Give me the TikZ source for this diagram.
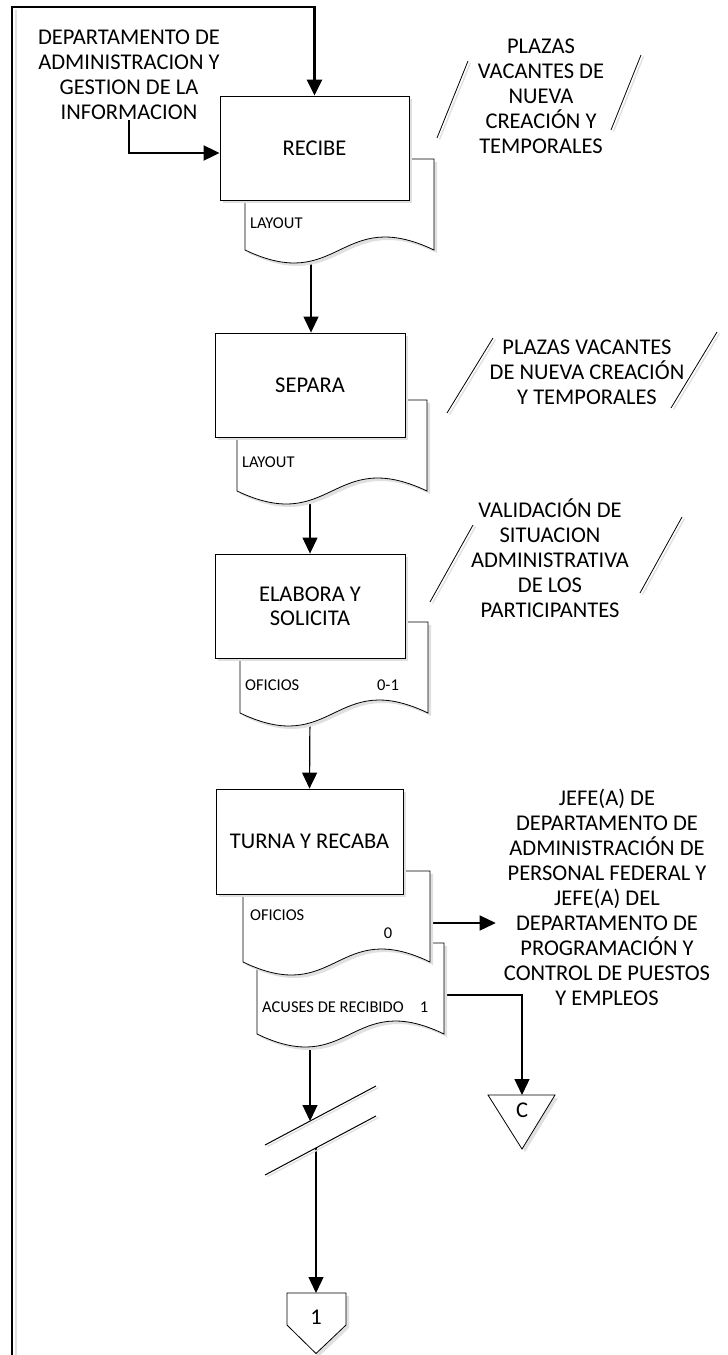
\documentclass[tikz,border=0pt]{standalone}
\usepackage{fontspec}
\setmainfont{Carlito}
\usetikzlibrary{arrows.meta,shadows}
\newcommand\bigtxt{\fontsize{22.5}{25}\selectfont}
\newcommand\smalltxt{\fontsize{16.5}{19}\selectfont}
\pgfdeclarelayer{bg}
\pgfsetlayers{bg,main}
\tikzset{
  shad/.style={general shadow={shadow xshift=3pt, shadow yshift=-3pt, fill=black!12}},
  proc/.style={draw, line width=0.85pt, fill=white, inner sep=0pt, align=center, font=\bigtxt, shad},
  docbox/.style={draw, line width=0.8pt, fill=white, shad},
  arr/.style={-{Triangle[length=16pt,width=15pt]}, line width=1.2pt},
  heavy/.style={line width=2.6pt},
  lbl/.style={inner sep=0pt, align=center, font=\bigtxt},
  sm/.style={inner sep=0pt, font=\smalltxt},
  slash/.style={line width=0.8pt, preaction={draw=black!12, line width=1.4pt, transform canvas={shift={(2.5pt,-1.5pt)}}}},
}
\newcommand\docshape[4]{%
  \draw[docbox] (#1,#2) -- (#3,#2) -- (#3,#4)
    .. controls ({(#1+#3)/2},{#4-45}) and ({(#1+#3)/2},{#4+45}) .. (#1,#4) -- cycle;}
\begin{document}
\begin{tikzpicture}[x=1pt,y=-1pt]
\useasboundingbox (0,0) rectangle (728,1355);

% ---------- documents (behind boxes) ----------
\docshape{245}{159}{434}{250}
\node[sm, anchor=west] (t1) at (250,223) {LAYOUT};
\docshape{237}{400}{427}{491}
\node[sm, anchor=west] (t2) at (242,462) {LAYOUT};
\docshape{240}{622}{428}{713}
\node[sm, anchor=west] (t3) at (245,685) {OFICIOS};
\node[sm] (t3b) at (388,685) {0-1};
\docshape{257}{943}{444}{1034}
\node[sm, anchor=west] (t5) at (262,1007) {ACUSES DE RECIBIDO};
\node[sm] (t5b) at (424,1007) {1};
\docshape{243}{871}{430}{962}
\node[sm, anchor=west] (t4) at (250,915) {OFICIOS};
\node[sm] (t4b) at (388,933) {0};

% ---------- process boxes ----------
\node[proc, minimum width=189pt, minimum height=104pt] (recibe) at (314.5,148) {RECIBE};
\node[proc, minimum width=190pt, minimum height=104pt] (separa) at (310,385) {SEPARA};
\node[proc, minimum width=190pt, minimum height=104pt] (elabora) at (310,606) {ELABORA Y\\[-1pt]SOLICITA};
\node[proc, minimum width=187pt, minimum height=105pt] (turna) at (309.5,841.5) {TURNA Y RECABA};

% ---------- texts ----------
\node[lbl] (dept) at (129,75) {DEPARTAMENTO DE\\ADMINISTRACION Y\\GESTION DE LA\\INFORMACION};
\node[lbl] (plazas1) at (541,96) {PLAZAS\\VACANTES DE\\NUEVA\\CREACIÓN Y\\TEMPORALES};
\node[lbl] (plazas2) at (587,372) {PLAZAS VACANTES\\DE NUEVA CREACIÓN\\Y TEMPORALES};
\node[lbl] (valida) at (550,558) {VALIDACIÓN DE\\SITUACION\\ADMINISTRATIVA\\DE LOS\\PARTICIPANTES};
\node[lbl, inner xsep=8pt] (jefe) at (607,897) {JEFE(A) DE\\DEPARTAMENTO DE\\ADMINISTRACIÓN DE\\PERSONAL FEDERAL Y\\JEFE(A) DEL\\DEPARTAMENTO DE\\PROGRAMACIÓN Y\\CONTROL DE PUESTOS\\Y EMPLEOS};

% ---------- annotation slashes ----------
\draw[slash] (437,138) -- (468,61);
\draw[slash] (611,130) -- (641,55);
\draw[slash] (447,413) -- (493,338);
\draw[slash] (671,408) -- (717,332);
\draw[slash] (430,602) -- (473,525);
\draw[slash] (640,593) -- (682,517);

% ---------- break symbol ----------
\draw[slash, line width=1pt] (265,1145) -- (376,1086);
\draw[slash, line width=1pt] (265,1175) -- (376,1116);

% ---------- off-page connector and connector C ----------
\draw[docbox] (287,1293) -- (346,1293) -- (346,1325) -- (316,1353.5) -- (287,1325) -- cycle;
\node[lbl] (pg1) at (316,1317) {1};
\draw[docbox] (488,1095) -- (555,1095) -- (522,1149) -- cycle;
\node[lbl] (conc) at (522,1110) {C};

% ---------- named coordinates ----------
\coordinate (loopstart) at (12,1356);
\coordinate (top) at (12,7);
\coordinate (d1) at (311,250);
\coordinate (d2) at (310,491);
\coordinate (d3) at (310,713);
\coordinate (d4r) at (430,923);
\coordinate (d5r) at (444,995);
\coordinate (d5b) at (310,1034);
\coordinate (brk1) at (310,1121);
\coordinate (brk2) at (316,1148);
\coordinate (pgtop) at (316,1293);
\coordinate (ctop) at (522,1095);

% ---------- connectors ----------
\begin{pgfonlayer}{bg}
\draw[black!12, line width=2pt] (15.5,1356) -- (15.5,10);
\draw[arr, heavy] (loopstart) -- (top) -| (recibe.north);
\draw[arr, line width=2pt] (dept.south) |- ([yshift=-5pt]recibe.west);
\draw[arr] (d1) -- (d1 |- separa.north);
\draw[arr] (d2) -- (elabora.north);
\draw[arr] (d3) -- (turna.north);
\draw[arr] (d4r) -- (jefe.west |- d4r);
\draw[arr] (d5r) -| (ctop);
\draw[arr] (d5b) -- (brk1);
\draw[arr] (brk2) -- (pgtop);
\end{pgfonlayer}
\end{tikzpicture}
\end{document}
